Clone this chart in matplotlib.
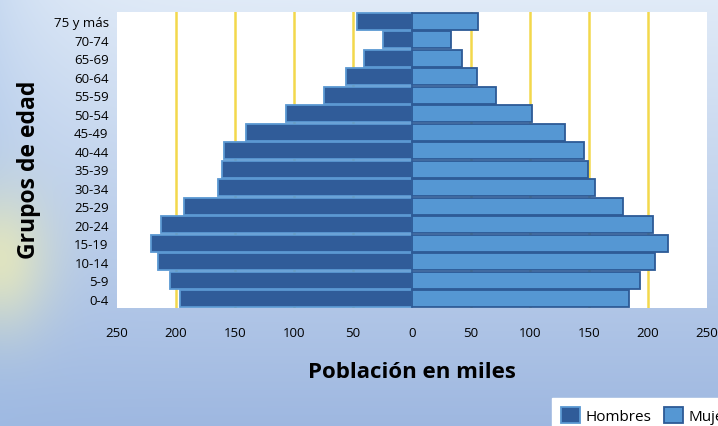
import matplotlib.pyplot as plt
import numpy as np
from matplotlib.patches import Patch

# grupos de edad de abajo hacia arriba
grupos = ["0-4", "5-9", "10-14", "15-19", "20-24", "25-29", "30-34", "35-39",
          "40-44", "45-49", "50-54", "55-59", "60-64", "65-69", "70-74", "75 y más"]
hombres = [197, 205, 215, 221, 213, 193, 164, 161, 159, 141, 107, 75, 56, 41, 25, 47]
mujeres = [184, 193, 206, 217, 204, 179, 155, 149, 146, 130, 102, 71, 55, 42, 33, 56]
ticks = [-250, -200, -150, -100, -50, 0, 50, 100, 150, 200, 250]
grid_x = [-200, -150, -100, -50, 50, 100, 150, 200]

plt.rcParams["font.family"] = ["Open Sans", "DejaVu Sans"]

W, H = 718, 427
fig = plt.figure(figsize=(W / 100, H / 100), dpi=100)

# fondo degradado azul con un toque amarillo a la izquierda
yy, xx = np.mgrid[0:H, 0:W]
top = np.array([0.88, 0.92, 0.97])
bottom = np.array([0.62, 0.72, 0.88])
t = (yy / H)[..., None]
bg = top * (1 - t) + bottom * t
left = np.exp(-xx / 60.0)[..., None]
bg = bg * (1 - 0.35 * left) + np.array([0.62, 0.74, 0.9]) * 0.35 * left
blob = np.exp(-(((xx - 0) / 50.0) ** 2 + ((yy - 260) / 70.0) ** 2))[..., None]
bg = bg * (1 - 0.8 * blob) + np.array([0.92, 0.92, 0.72]) * 0.8 * blob
bg_ax = fig.add_axes([0, 0, 1, 1])
bg_ax.imshow(np.clip(bg, 0, 1), aspect="auto", extent=[0, 1, 0, 1])
bg_ax.axis("off")

ax = fig.add_axes([117 / W, 1 - 309 / H, 590 / W, 296 / H])
ax.set_facecolor("white")
y = np.arange(len(grupos))

for gx in grid_x:
    ax.axvline(gx, color="#f3d84c", lw=1.8, zorder=0)

ax.barh(y, [-v for v in hombres], height=0.93, color="#305c99",
        edgecolor="#5b98d2", linewidth=1.3, zorder=2)
ax.barh(y, mujeres, height=0.93, color="#5597d3",
        edgecolor="#2d5a96", linewidth=1.3, zorder=2)

ax.set_xlim(-250, 250)
ax.set_ylim(-0.5, len(grupos) - 0.5)
ax.set_xticks(ticks)
ax.set_xticklabels([str(abs(v)) for v in ticks], fontsize=9.5)
ax.set_yticks(y)
ax.set_yticklabels(grupos, fontsize=9.5)
ax.tick_params(axis="x", length=0, pad=13)
ax.tick_params(axis="y", length=0, pad=6)
for s in ax.spines.values():
    s.set_visible(False)

ax.set_xlabel("Población en miles", fontsize=16, fontweight="bold", labelpad=16)
fig.text(29 / W, 1 - 170 / H, "Grupos de edad", rotation=90, fontsize=16.5,
         fontweight="bold", ha="center", va="center")

handles = [Patch(facecolor="#305c99", edgecolor="#5b98d2", lw=1.3, label="Hombres"),
           Patch(facecolor="#5597d3", edgecolor="#2d5a96", lw=1.3, label="Mujeres")]
leg = fig.legend(handles=handles, loc="upper left", bbox_to_anchor=(552 / W, 1 - 399 / H),
                 ncol=2, fontsize=11, frameon=True, fancybox=False, edgecolor="white",
                 framealpha=1, borderpad=0.6, handlelength=1.2, handleheight=1.2,
                 columnspacing=0.85, handletextpad=0.4, borderaxespad=0)

fig.savefig("out.png", dpi=100)
